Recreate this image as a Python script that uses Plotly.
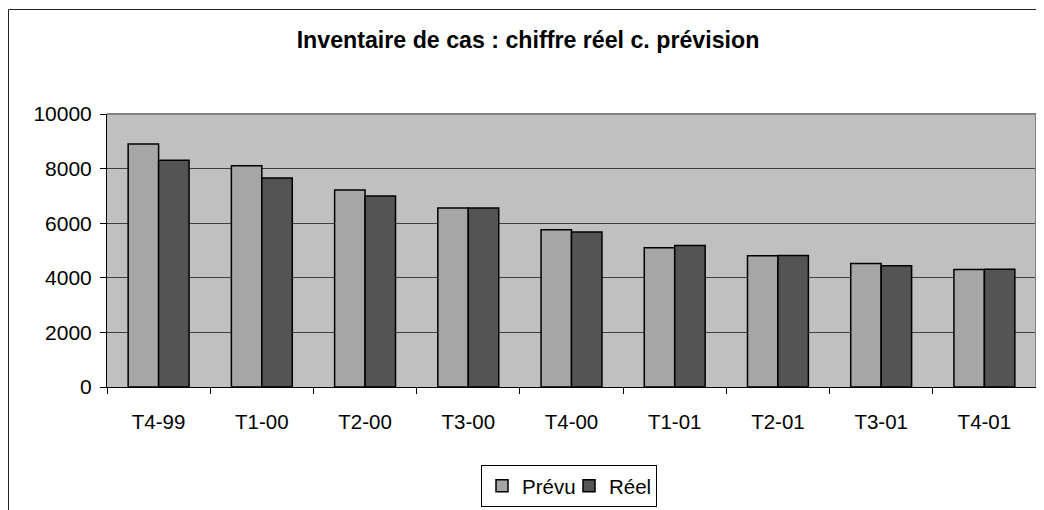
import plotly.graph_objects as go

categories = ["T4-99", "T1-00", "T2-00", "T3-00", "T4-00", "T1-01", "T2-01", "T3-01", "T4-01"]
prevu = [8900, 8100, 7220, 6560, 5760, 5100, 4810, 4520, 4300]
reel = [8310, 7660, 7000, 6560, 5680, 5180, 4820, 4440, 4310]
y_ticks = [0, 2000, 4000, 6000, 8000, 10000]
y_tick_labels = ["0", "2000", "4000", "6000", "8000", "10000"]

FONT = "Arial, Liberation Sans, sans-serif"

fig = go.Figure()
fig.add_trace(go.Bar(name="Prévu", x=categories, y=prevu,
                     marker=dict(color="#A6A6A6", line=dict(color="black", width=1.5))))
fig.add_trace(go.Bar(name="Réel", x=categories, y=reel,
                     marker=dict(color="#545454", line=dict(color="black", width=1.5))))

# page body adds an 8px offset; figure sized to fill the rest of the window
OFF = 8
W, H = 1044 - OFF, 510 - OFF
L, R, T, B = 99, 8, 106, 123
pw = W - L - R
ph = H - T - B

def px_x(x):
    return (x - L) / pw

def px_y(y):
    return (H - B - y) / ph

fig.update_layout(
    width=W, height=H,
    margin=dict(l=L, r=R, t=T, b=B, autoexpand=False),
    paper_bgcolor="white",
    plot_bgcolor="#C0C0C0",
    barmode="group",
    bargap=0.41,
    bargroupgap=0,
    font=dict(family=FONT, size=20.5, color="black"),
    title=dict(text="<b>Inventaire de cas : chiffre réel c. prévision</b>",
               font=dict(family=FONT, size=23.2, color="black"),
               x=520 / W, xanchor="center", xref="container",
               y=1 - 32 / H, yanchor="middle", yref="container"),
    showlegend=True,
    legend=dict(orientation="h", x=px_x(561), xanchor="center",
                y=px_y(457), yanchor="top",
                bordercolor="black", borderwidth=1, bgcolor="white",
                font=dict(family=FONT, size=20.5, color="black"),
                itemwidth=30, tracegroupgap=0,
                entrywidth=42, entrywidthmode="pixels"),
    xaxis=dict(showgrid=False, showline=True, linecolor="black", linewidth=1,
               ticks="outside", tickson="boundaries", ticklen=6, tickcolor="black",
               ticklabelstandoff=16, tickfont=dict(size=20.5), automargin=False),
    yaxis=dict(range=[0, 10000], tickvals=y_ticks, ticktext=y_tick_labels,
               showgrid=True, gridcolor="#404040",
               gridwidth=1, zeroline=False, showline=True, linecolor="black", linewidth=1,
               ticks="outside", ticklen=6, tickcolor="black", ticklabelstandoff=4,
               tickfont=dict(size=21), automargin=False),
    shapes=[
        dict(type="rect", xref="paper", yref="paper", x0=px_x(0.5), y0=px_y(530),
             x1=px_x(1060), y1=px_y(1.5), line=dict(color="#222222", width=1),
             fillcolor="rgba(0,0,0,0)", layer="below"),
        dict(type="line", xref="paper", yref="paper", x0=1, x1=1, y0=0, y1=1,
             line=dict(color="#808080", width=2)),
        dict(type="line", xref="paper", yref="paper", x0=0, x1=1, y0=1, y1=1,
             line=dict(color="#808080", width=2)),
    ],
)

fig.write_html("out.html")
